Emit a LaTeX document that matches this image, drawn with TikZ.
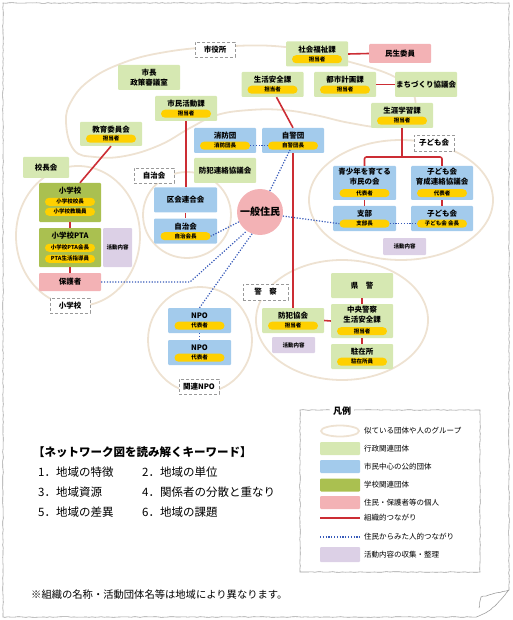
\documentclass[tikz,border=0pt]{standalone}
\usepackage{fontspec}
\setmainfont{Noto Sans CJK JP}
\usetikzlibrary{positioning,decorations.pathmorphing}

\definecolor{gyoseic}{RGB}{214,232,178}
\definecolor{shiminc}{RGB}{163,203,236}
\definecolor{gakkoc}{RGB}{170,192,80}
\definecolor{kojinc}{RGB}{243,178,181}
\definecolor{pillc}{RGB}{255,208,0}
\definecolor{katsudoc}{RGB}{220,208,230}
\definecolor{soshikic}{RGB}{204,45,52}
\definecolor{jintekic}{RGB}{55,90,185}
\definecolor{grpc}{RGB}{238,226,210}

\tikzset{
  orgbox/.style={rectangle, rounded corners=1pt, minimum width=62pt, minimum height=25pt, inner sep=0pt, align=center, font=\bfseries\fontsize{7.5}{9.5}\selectfont},
  gyoseibox/.style={orgbox, fill=gyoseic},
  shiminbox/.style={orgbox, fill=shiminc},
  gakkobox/.style={orgbox, fill=gakkoc, minimum height=39pt},
  kojinbox/.style={orgbox, fill=kojinc, minimum height=19pt},
  katsudobox/.style={rectangle, rounded corners=1pt, fill=katsudoc, inner sep=0pt, font=\bfseries\fontsize{5.5}{6}\selectfont},
  pill/.style={rectangle, rounded corners=4pt, fill=pillc, minimum width=50pt, minimum height=8pt, inner sep=0pt, font=\bfseries\fontsize{5.5}{6}\selectfont},
  ttl/.style={inner sep=0pt, align=center, font=\bfseries\fontsize{7.5}{9.5}\selectfont},
  grplabel/.style={draw=gray!80, dash pattern=on 3pt off 2pt, line width=0.8pt, fill=white, minimum width=40pt, minimum height=15pt, inner sep=0pt, font=\bfseries\fontsize{7.5}{9}\selectfont},
  grpline/.style={draw=grpc, line width=1.8pt},
  soshikiline/.style={draw=soshikic, line width=1.6pt},
  jintekiline/.style={draw=jintekic, line width=1.2pt, dash pattern=on 1.2pt off 1.6pt},
  sketch/.style={draw=gray!75, line width=0.6pt, decorate, decoration={random steps, segment length=3pt, amplitude=0.35pt}},
  legtext/.style={anchor=west, inner sep=0pt, font=\fontsize{7.5}{9}\selectfont},
}

\begin{document}
\begin{tikzpicture}[x=1pt,y=-1pt]
\useasboundingbox (0,0) rectangle (512,620);

%Page frame
\draw[sketch] (3,3) -- (509,3) -- (509,590) .. controls (498,604) and (490,612) .. (476,617) -- (3,617) -- cycle;
\draw[sketch] (509,590) -- (481,597) -- (479,608);

%Groups
\draw[grpline] plot[smooth cycle, tension=0.7] coordinates {(66,122) (72,100) (90,80) (120,64) (160,53) (215,47) (285,47) (350,62) (395,77) (414,95) (410,118) (385,127) (350,123) (315,115) (283,110) (250,110) (217,115) (190,128) (160,145) (125,156) (95,157) (74,150)};
\draw[grpline] (187,215) ellipse [x radius=44, y radius=43];
\draw[grpline] (78,236) ellipse [x radius=62, y radius=70];
\draw[grpline] (401,200) ellipse [x radius=92, y radius=60];
\draw[grpline] (200,340) ellipse [x radius=52, y radius=53];
\draw[grpline] (342,320) ellipse [x radius=86, y radius=60];

%Group labels
\node[grplabel] (lshiyakusho) at (215,49.5) {市役所};
\node[grplabel] (ljichi) at (154,175.5) {自治会};
\node[grplabel, minimum height=16pt] (lkodomo) at (434,143) {子ども会};
\node[grplabel] (lshogakko) at (70,305.5) {小学校};
\node[grplabel] (lnpo) at (199,386.5) {関連NPO};
\node[grplabel, minimum width=45pt, minimum height=16pt] (lkeisatsu) at (265.5,292) {警　察};

%City office
\node[gyoseibox] (shakai) at (317,54) {};
\node[ttl] at ([yshift=-8pt]shakai.north) {社会福祉課};
\node[pill] (shakaipill) at ([yshift=7.5pt]shakai.south) {担当者};

\node[kojinbox] (minsei) at (400,53.5) {民生委員};

\node[gyoseibox] (shicho) at (149,77.5) {市長\\政策審議室};

\node[gyoseibox] (seikatsu) at (272.5,84.5) {};
\node[ttl] at ([yshift=-8pt]seikatsu.north) {生活安全課};
\node[pill] (seikatsupill) at ([yshift=7.5pt]seikatsu.south) {担当者};

\node[gyoseibox] (toshi) at (345,84.5) {};
\node[ttl] at ([yshift=-8pt]toshi.north) {都市計画課};
\node[pill] (toshipill) at ([yshift=7.5pt]toshi.south) {担当者};

\node[gyoseibox] (machi) at (426,84.5) {まちづくり協議会};

\node[gyoseibox] (shimin) at (186,108.5) {};
\node[ttl] at ([yshift=-8pt]shimin.north) {市民活動課};
\node[pill] (shiminpill) at ([yshift=7.5pt]shimin.south) {担当者};

\node[gyoseibox] (shogai) at (402,115.5) {};
\node[ttl] at ([yshift=-8pt]shogai.north) {生涯学習課};
\node[pill] (shogaipill) at ([yshift=7.5pt]shogai.south) {担当者};

\node[gyoseibox, minimum height=24pt] (kyoiku) at (111,134) {};
\node[ttl] at ([yshift=-8pt]kyoiku.north) {教育委員会};
\node[pill] (kyoikupill) at ([yshift=7.5pt]kyoiku.south) {担当者};

%Fire and watch
\node[shiminbox] (shobo) at (225,140.5) {};
\node[ttl] at ([yshift=-8pt]shobo.north) {消防団};
\node[pill] (shobopill) at ([yshift=7.5pt]shobo.south) {消防団長};

\node[shiminbox] (jikei) at (293,140.5) {};
\node[ttl] at ([yshift=-8pt]jikei.north) {自警団};
\node[pill] (jikeipill) at ([yshift=7.5pt]jikei.south) {自警団長};

\node[gyoseibox] (bohanren) at (225,170.5) {防犯連絡協議会};

%Neighbourhood associations
\node[shiminbox, minimum width=63pt] (kukai) at (185.5,200) {区会連合会};

\node[shiminbox, minimum width=63pt] (jichi) at (185.5,231) {};
\node[ttl] at ([yshift=-8pt]jichi.north) {自治会};
\node[pill] (jichipill) at ([yshift=7.5pt]jichi.south) {自治会長};

%Residents
\node[circle, fill=kojinc, minimum size=46pt, inner sep=0pt, font=\bfseries\fontsize{10}{12}\selectfont] (jumin) at (260,212) {一般住民};

%Primary school
\node[gyoseibox, minimum width=46pt, minimum height=21pt] (kocho) at (46,167.5) {校長会};

\node[gakkobox] (shogakko) at (70,202.5) {};
\node[ttl] at ([yshift=-8pt]shogakko.north) {小学校};
\node[pill] (shogakkopill1) at ([yshift=-19pt]shogakko.north) {小学校校長};
\node[pill] (shogakkopill2) at ([yshift=-29pt]shogakko.north) {小学校教職員};

\node[gakkobox] (pta) at (70,247.5) {};
\node[ttl] at ([yshift=-8pt]pta.north) {小学校PTA};
\node[pill] (ptapill1) at ([yshift=-20pt]pta.north) {小学校PTA会長};
\node[pill] (ptapill2) at ([yshift=-31pt]pta.north) {PTA生活指導員};

\node[katsudobox, minimum width=29pt, minimum height=39pt] (katsudo1) at (117.5,247.5) {活動内容};

\node[kojinbox, minimum height=18pt] (hogo) at (70,282) {保護者};

%Children
\node[shiminbox, minimum width=63pt, minimum height=34pt] (seishonen) at (364.5,183) {};
\node[ttl] at ([yshift=-11pt]seishonen.north) {青少年を育てる\\市民の会};
\node[pill] (seishonenpill) at ([yshift=7pt]seishonen.south) {代表者};

\node[shiminbox, minimum height=34pt] (kodomokyo) at (442,183) {};
\node[ttl] at ([yshift=-11pt]kodomokyo.north) {子ども会\\育成連絡協議会};
\node[pill] (kodomokyopill) at ([yshift=7pt]kodomokyo.south) {代表者};

\node[shiminbox, minimum width=63pt] (shibu) at (364.5,218.5) {};
\node[ttl] at ([yshift=-8pt]shibu.north) {支部};
\node[pill] (shibupill) at ([yshift=7.5pt]shibu.south) {支部長};

\node[shiminbox] (kodomo) at (442,218.5) {};
\node[ttl] at ([yshift=-8pt]kodomo.north) {子ども会};
\node[pill] (kodomopill) at ([yshift=7.5pt]kodomo.south) {子ども会 会長};

\node[katsudobox, minimum width=43pt, minimum height=17pt] (katsudo2) at (404.5,246.5) {活動内容};

%NPO
\node[shiminbox, minimum width=63pt] (npo1) at (199.5,320.5) {};
\node[ttl] at ([yshift=-8pt]npo1.north) {NPO};
\node[pill] (npo1pill) at ([yshift=7.5pt]npo1.south) {代表者};

\node[shiminbox, minimum width=63pt] (npo2) at (199.5,352.5) {};
\node[ttl] at ([yshift=-8pt]npo2.north) {NPO};
\node[pill] (npo2pill) at ([yshift=7.5pt]npo2.south) {代表者};

%Police
\node[gyoseibox] (kenkei) at (362,285.5) {県　警};

\node[gyoseibox, minimum height=34pt] (chuo) at (362,321) {};
\node[ttl] at ([yshift=-11pt]chuo.north) {中央警察\\生活安全課};
\node[pill] (chuopill) at ([yshift=7pt]chuo.south) {担当者};

\node[gyoseibox] (chuzai) at (362,356.5) {};
\node[ttl] at ([yshift=-8pt]chuzai.north) {駐在所};
\node[pill] (chuzaipill) at ([yshift=7.5pt]chuzai.south) {駐在所員};

\node[gyoseibox] (bohankyo) at (293,320.5) {};
\node[ttl] at ([yshift=-8pt]bohankyo.north) {防犯協会};
\node[pill] (bohankyopill) at ([yshift=7.5pt]bohankyo.south) {担当者};

\node[katsudobox, minimum width=43pt, minimum height=16pt] (katsudo3) at (293.5,345) {活動内容};

%Organisational links
\draw[soshikiline] (shakai.east) -- (minsei.west);
\draw[soshikiline] (toshi.east) -- (machi.west);
\draw[soshikiline] ([xshift=4pt]seikatsu.south) -- (jikei.north);
\draw[soshikiline] (shimin.south) -- (shimin.south |- kukai.north);
\draw[soshikiline] (kukai.south) -- (jichi.north);
\draw[soshikiline] (jikei.south) -- (bohankyo.north);
\draw[soshikiline] (kyoiku.south) -- ([xshift=10pt]shogakko.north);
\draw[soshikiline] (shogakko.south) -- (pta.north);
\draw[soshikiline] (pta.south) -- (hogo.north);
\coordinate (kbranch) at (402,157);
\draw[soshikiline] (shogai.south) -- (kbranch);
\draw[soshikiline, rounded corners=2pt] (seishonen.north) |- (kbranch) -| (kodomokyo.north);
\draw[soshikiline] (seishonen.south) -- (shibu.north);
\draw[soshikiline] (kodomokyo.south) -- (kodomo.north);
\draw[soshikiline] (kenkei.south) -- (chuo.north);
\draw[soshikiline] (chuo.south) -- (chuzai.north);
\draw[soshikiline] (bohankyo.east) -- (chuo.west);

%Personal links
\draw[jintekiline] (shobopill.east) -- (jikeipill.west);
\draw[jintekiline] (shibupill.east) -- (kodomopill.west);
\draw[jintekiline] (npo1.south) -- (npo2.north);
\draw[jintekiline] (jumin.65) -- ([xshift=-3pt]jikeipill.south);
\draw[jintekiline] (jumin.205) -- (jichipill.east);
\coordinate (hbend) at (190,282);
\draw[jintekiline] (hogo.east) -- (hbend) -- (jumin.235);
\draw[jintekiline] (jumin.250) -- (npo1.north);
\draw[jintekiline] (jumin.-10) -- (shibupill.west);

%Keywords
\node[anchor=west, inner sep=0pt, font=\bfseries\fontsize{11.5}{13}\selectfont] (kwtitle) at (33,452) {【ネットワーク図を読み解くキーワード】};
\node[anchor=west, inner sep=0pt, font=\fontsize{11.5}{13}\selectfont] (kw1) at (38,472) {1．地域の特徴};
\node[anchor=west, inner sep=0pt, font=\fontsize{11.5}{13}\selectfont] (kw2) at (142,472) {2．地域の単位};
\node[anchor=west, inner sep=0pt, font=\fontsize{11.5}{13}\selectfont] (kw3) at (38,492) {3．地域資源};
\node[anchor=west, inner sep=0pt, font=\fontsize{11.5}{13}\selectfont] (kw4) at (142,492) {4．関係者の分散と重なり};
\node[anchor=west, inner sep=0pt, font=\fontsize{11.5}{13}\selectfont] (kw5) at (38,512) {5．地域の差異};
\node[anchor=west, inner sep=0pt, font=\fontsize{11.5}{13}\selectfont] (kw6) at (142,512) {6．地域の課題};

%Legend
\draw[sketch] (300,410) -- (480,410) -- (480,572) -- (300,572) -- cycle;
\node[fill=white, inner xsep=3pt, inner ysep=1pt, font=\bfseries\fontsize{9}{10}\selectfont] (legtitle) at (342,411) {凡例};
\draw[grpline] (340,431) ellipse [x radius=19, y radius=5.5];
\node[legtext] (leg1) at (364,431) {似ている団体や人のグループ};
\node[fill=gyoseic, rounded corners=1pt, minimum width=40pt, minimum height=13pt] (leggyosei) at (340,448.5) {};
\node[legtext] (leg2) at (364,448.5) {行政関連団体};
\node[fill=shiminc, rounded corners=1pt, minimum width=40pt, minimum height=13pt] (legshimin) at (340,466.5) {};
\node[legtext] (leg3) at (364,466.5) {市民中心の公的団体};
\node[fill=gakkoc, rounded corners=1pt, minimum width=40pt, minimum height=13pt] (leggakko) at (340,485) {};
\node[legtext] (leg4) at (364,485) {学校関連団体};
\node[fill=kojinc, rounded corners=1pt, minimum width=40pt, minimum height=13pt] (legkojin) at (340,502.5) {};
\node[legtext] (leg5) at (364,502.5) {住民・保護者等の個人};
\coordinate (lsA) at (320,518);
\coordinate (lsB) at (360,518);
\draw[soshikiline] (lsA) -- (lsB);
\node[legtext] (leg6) at (364,518) {組織的つながり};
\coordinate (ljA) at (320,537);
\coordinate (ljB) at (360,537);
\draw[jintekiline] (ljA) -- (ljB);
\node[legtext] (leg7) at (364,537) {住民からみた人的つながり};
\node[fill=katsudoc, rounded corners=1pt, minimum width=40pt, minimum height=15pt] (legkatsudo) at (340,554.5) {};
\node[legtext] (leg8) at (364,554.5) {活動内容の収集・整理};

%Note
\node[anchor=west, inner sep=0pt, font=\fontsize{10.3}{12}\selectfont] (note) at (31,595) {※組織の名称・活動団体名等は地域により異なります。};
\end{tikzpicture}
\end{document}
